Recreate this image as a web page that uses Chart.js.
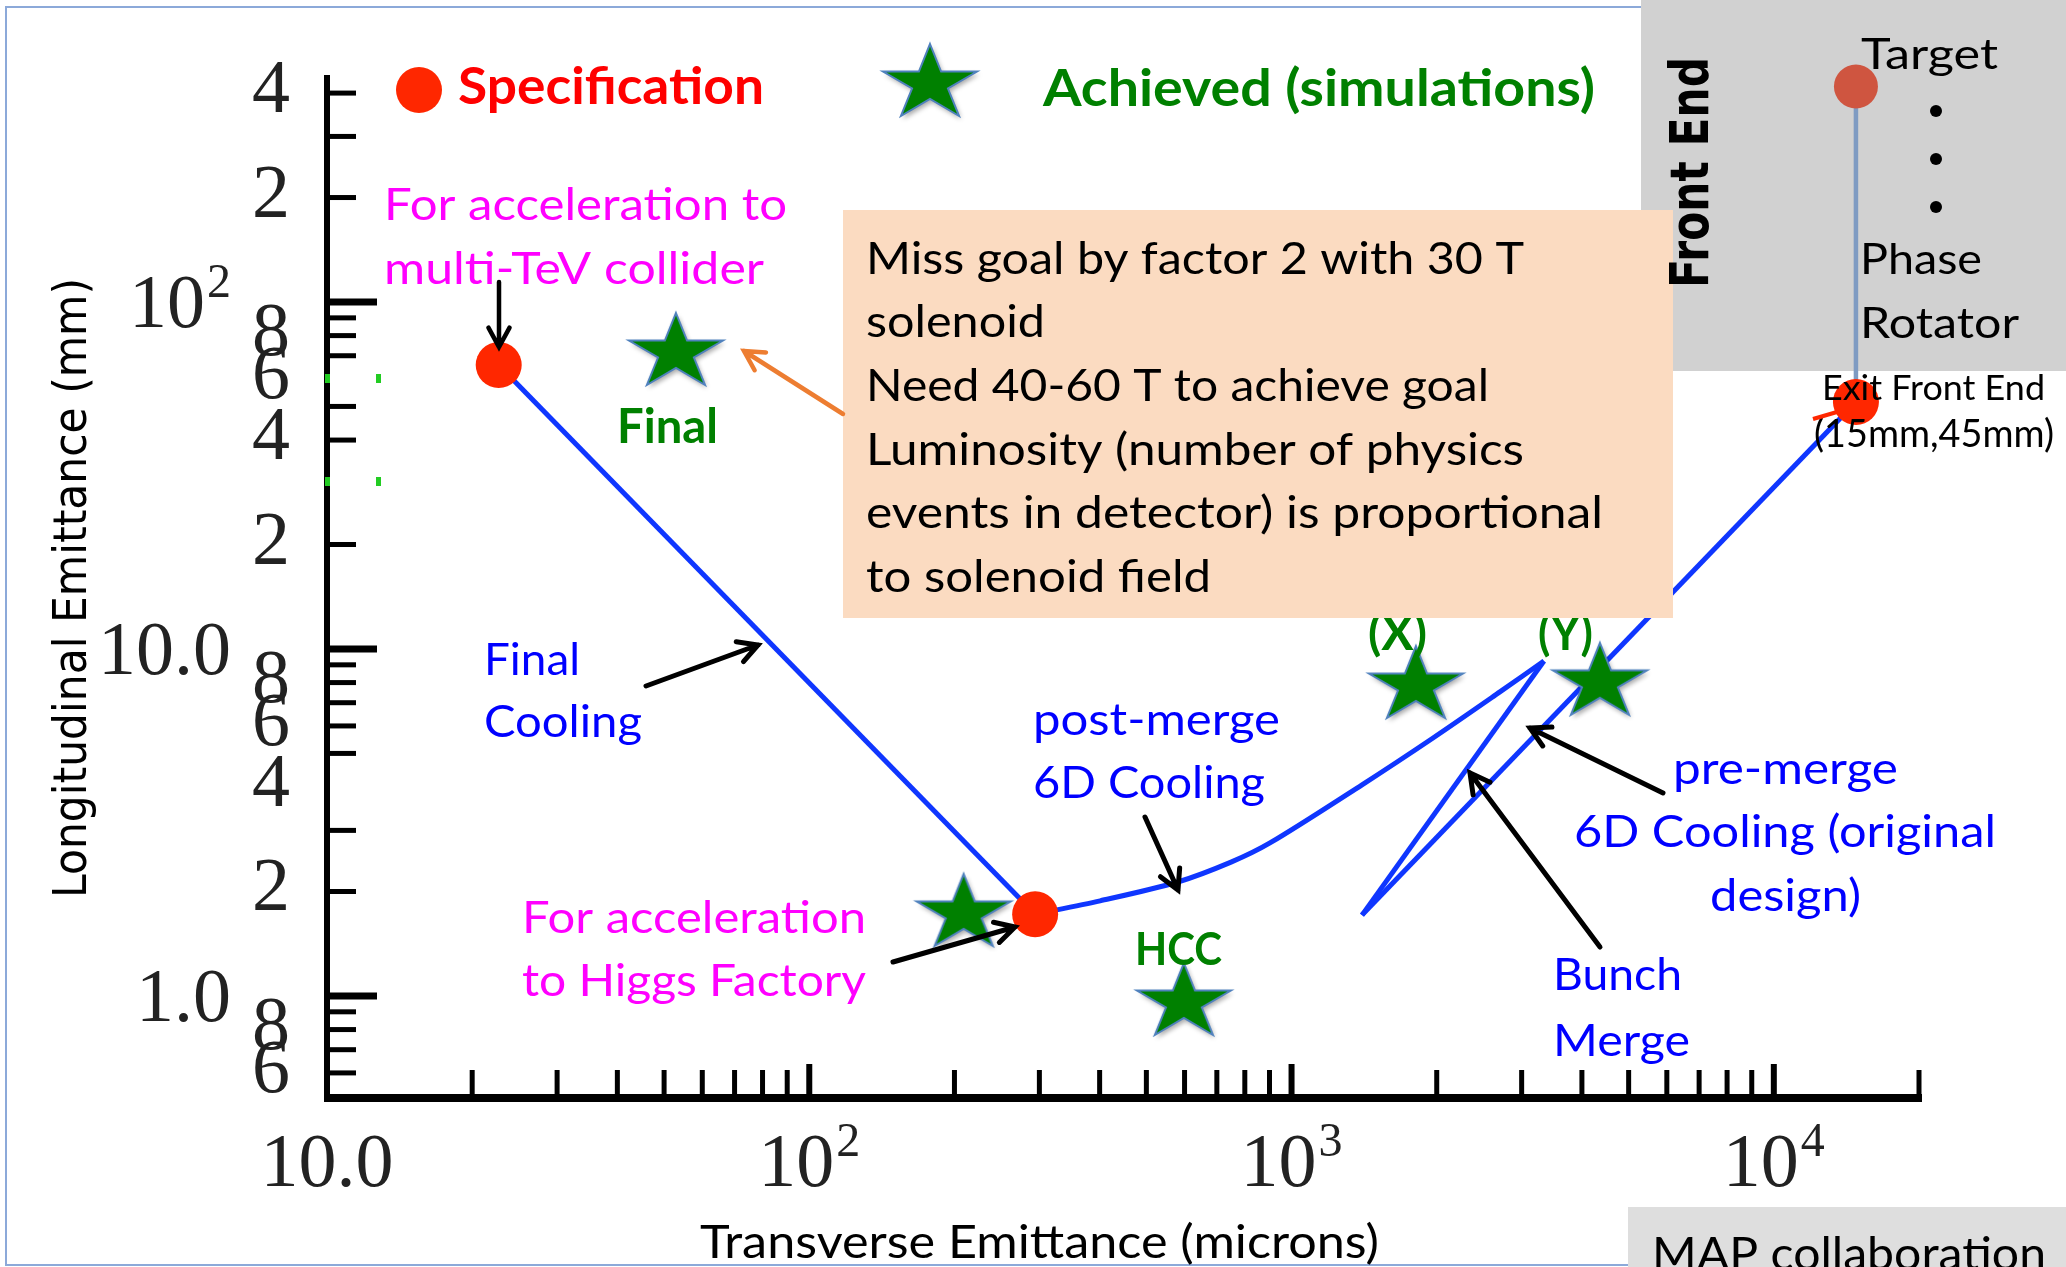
<!DOCTYPE html>
<html>
<head>
<meta charset="utf-8">
<script src="https://cdn.jsdelivr.net/npm/chart.js@4.4.1/dist/chart.umd.min.js"></script>
<style>
  html, body { margin: 0; padding: 0; background: #fff; overflow: hidden; }
</style>
</head>
<body>
<canvas id="chart" width="2066" height="1267"></canvas>
<script>
// Specification points (transverse microns, longitudinal mm)
const specX = [22.7, 294, 14800];
const specY = [65.8, 1.72, 51.5];

// Achieved in simulations: Final, Higgs, HCC, (X), (Y)
const achievedX = [52.9, 209, 598, 1811, 4359];
const achievedY = [73.2, 1.77, 0.98, 8.03, 8.2];

// cooling path, split by stage
const preMergeX = [14800, 1400];
const preMergeY = [51.5, 1.71];
const bunchMergeX = [1400, 3337];
const bunchMergeY = [1.71, 9.23];
const postMergeX = [3337, 2704, 1965, 1400, 902, 749, 581, 401, 294];
const postMergeY = [9.23, 7.52, 5.54, 4.06, 2.76, 2.43, 2.13, 1.88, 1.72];
const finalCoolingX = [294, 22.7];
const finalCoolingY = [1.72, 65.8];

// front end: target down to exit
const frontEndX = [14800, 14800];
const frontEndY = [418, 51.5];

// axis ticks
const xMajorTicks = [100, 1000, 10000];
const xMinorTicks = [20, 30, 40, 50, 60, 70, 80, 90,
                     200, 300, 400, 500, 600, 700, 800, 900,
                     2000, 3000, 4000, 5000, 6000, 7000, 8000, 9000, 20000];
const xTickValues = [10, 100, 1000, 10000];
const xTickLabels = ['10.0', '10²', '10³', '10⁴'];

const yMajorTicks = [1, 10, 100];
const yMinorTicks = [0.6, 0.7, 0.8, 0.9, 2, 3, 5, 6, 7, 8, 9,
                     20, 40, 50, 70, 80, 90, 200, 300, 400];
const yDecadeValues = [1, 10, 100];
const yDecadeLabels = ['1.0', '10.0', '10²'];
const yDigitValues = [0.6, 0.8, 2, 4, 6, 8, 20, 40, 60, 80, 200, 400];
const yDigitLabels = ['6', '8', '2', '4', '6', '8', '2', '4', '6', '8', '2', '4'];

const RED = '#FF0000', GREEN = '#008000', BLUE = '#0000FF', MAGENTA = '#FF00FF';
const LINE_BLUE = '#0F36FF';
const SUP = { '²': '2', '³': '3', '⁴': '4' };

const pts = (xs, ys) => xs.map((x, i) => ({ x: x, y: ys[i] }));

// five point star as an image, wider than tall like the slide shape
function makeStar(w, h) {
    const pad = 10;
    const c = document.createElement('canvas');
    c.width = w + 2 * pad;
    c.height = h + 2 * pad;
    const g = c.getContext('2d');
    g.beginPath();
    for (let i = 0; i < 10; i++) {
        const r = i % 2 ? 0.382 : 1;
        const a = -Math.PI / 2 + i * Math.PI / 5;
        const px = pad + (Math.cos(a) * r + 0.951) / 1.902 * w;
        const py = pad + (Math.sin(a) * r + 1) / 1.809 * h;
        if (i) g.lineTo(px, py); else g.moveTo(px, py);
    }
    g.closePath();
    g.shadowColor = 'rgba(0,0,0,0.35)';
    g.shadowBlur = 5;
    g.shadowOffsetX = 2;
    g.shadowOffsetY = 3;
    g.fillStyle = '#008000';
    g.fill();
    g.shadowColor = 'transparent';
    g.lineWidth = 2;
    g.strokeStyle = '#4F81BD';
    g.stroke();
    return c;
}
const starImg = makeStar(94, 72);

// text squeezed/stretched to a target width
function text(ctx, s, x, y, size, color, bold, width, family, rot) {
    ctx.save();
    ctx.font = (bold ? 'bold ' : '') + size + 'px ' + (family || 'Lato');
    ctx.fillStyle = color;
    ctx.textBaseline = 'alphabetic';
    ctx.textAlign = 'left';
    ctx.translate(x, y);
    if (rot) ctx.rotate(rot);
    if (width) ctx.scale(width / ctx.measureText(s).width, 1);
    ctx.fillText(s, 0, 0);
    ctx.restore();
}

function arrow(ctx, x1, y1, x2, y2, color, lw) {
    const a = Math.atan2(y2 - y1, x2 - x1), L = 22, s = 0.5;
    ctx.save();
    ctx.strokeStyle = color;
    ctx.lineWidth = lw;
    ctx.lineCap = 'round';
    ctx.beginPath();
    ctx.moveTo(x1, y1);
    ctx.lineTo(x2, y2);
    ctx.moveTo(x2 - L * Math.cos(a - s), y2 - L * Math.sin(a - s));
    ctx.lineTo(x2, y2);
    ctx.lineTo(x2 - L * Math.cos(a + s), y2 - L * Math.sin(a + s));
    ctx.stroke();
    ctx.restore();
}

// tick label with an optional trailing superscript digit
function tickLabel(ctx, s, x, y, align) {
    const base = s.replace(/[²³⁴]/g, '');
    const sup = s.length > base.length ? SUP[s[s.length - 1]] : '';
    ctx.font = '76px "Liberation Serif"';
    const wb = ctx.measureText(base).width;
    ctx.font = '48px "Liberation Serif"';
    const ws = sup ? ctx.measureText(sup).width + 2 : 0;
    const left = align === 'center' ? x - (wb + ws) / 2 : x - (wb + ws);
    ctx.fillStyle = '#222';
    ctx.textAlign = 'left';
    ctx.textBaseline = 'alphabetic';
    ctx.font = '76px "Liberation Serif"';
    ctx.fillText(base, left, y);
    if (sup) {
        ctx.font = '48px "Liberation Serif"';
        ctx.fillText(sup, left + wb + 2, y - 30);
    }
}

const notes = [
    ['Specification', 458, 104, 52, RED, true, 306],
    ['Achieved (simulations)', 1043, 106, 52, GREEN, true, 552],
    ['For acceleration to', 384, 220, 44, MAGENTA, false, 403],
    ['multi-TeV collider', 384, 284, 44, MAGENTA, false, 380],
    ['Final', 617, 443, 48, GREEN, true, 101],
    ['Final', 484, 675, 45, BLUE, false, 96],
    ['Cooling', 484, 737, 45, BLUE, false, 158],
    ['For acceleration', 522, 933, 44, MAGENTA, false, 344],
    ['to Higgs Factory', 522, 996, 44, MAGENTA, false, 344],
    ['post-merge', 1033, 735, 45, BLUE, false, 247],
    ['6D Cooling', 1033, 798, 45, BLUE, false, 232],
    ['HCC', 1135, 965, 45, GREEN, true, 87],
    ['(X)', 1368, 650, 48, GREEN, true, 59],
    ['(Y)', 1538, 650, 48, GREEN, true, 55],
    ['pre-merge', 1673, 784, 45, BLUE, false, 225],
    ['6D Cooling (original', 1574, 847, 45, BLUE, false, 422],
    ['design)', 1710, 911, 45, BLUE, false, 151],
    ['Bunch', 1553, 990, 45, BLUE, false, 129],
    ['Merge', 1553, 1056, 45, BLUE, false, 137],
    ['Transverse Emittance (microns)', 700, 1258, 47, '#000', false, 679]
];

const boxLines = [
    ['Miss goal by factor 2 with 30 T', 658],
    ['solenoid', 179],
    ['Need 40-60 T to achieve goal', 623],
    ['Luminosity (number of physics', 658],
    ['events in detector) is proportional', 737],
    ['to solenoid field', 345]
];

const slidePlugin = {
    id: 'slide',
    beforeDraw(chart) {
        const ctx = chart.ctx;
        ctx.save();
        ctx.fillStyle = '#fff';
        ctx.fillRect(0, 0, chart.width, chart.height);
        ctx.strokeStyle = '#8CA9D9';
        ctx.lineWidth = 2;
        ctx.strokeRect(6, 7, 2100, 1258);
        // front end panel
        ctx.fillStyle = '#D1D1D1';
        ctx.fillRect(1641, 0, 425, 371);
        ctx.restore();
    },
    beforeDatasetsDraw(chart) {
        const { ctx, scales: { x, y } } = chart;
        const x0 = x.getPixelForValue(10);
        const xEnd = x.getPixelForValue(20000);
        const top = y.getPixelForValue(y.max);
        const bottom = y.getPixelForValue(y.min);
        const seg = (a, b, c, d) => { ctx.beginPath(); ctx.moveTo(a, b); ctx.lineTo(c, d); ctx.stroke(); };
        ctx.save();
        ctx.strokeStyle = '#000';
        ctx.lineCap = 'butt';
        ctx.lineWidth = 6;
        seg(x0, top, x0, bottom + 4);
        ctx.lineWidth = 8;
        seg(x0 - 3, bottom, xEnd + 3, bottom);

        ctx.lineWidth = 5;
        yMinorTicks.forEach(v => { const p = y.getPixelForValue(v); seg(x0, p, x0 + 29, p); });
        ctx.lineWidth = 7;
        yMajorTicks.forEach(v => { const p = y.getPixelForValue(v); seg(x0, p, x0 + 50, p); });
        ctx.lineWidth = 5;
        xMinorTicks.forEach(v => { const p = x.getPixelForValue(v); seg(p, bottom, p, bottom - 28); });
        ctx.lineWidth = 6;
        xMajorTicks.forEach(v => { const p = x.getPixelForValue(v); seg(p, bottom, p, bottom - 34); });

        xTickValues.forEach((v, i) => tickLabel(ctx, xTickLabels[i], x.getPixelForValue(v), 1186, 'center'));
        yDecadeValues.forEach((v, i) => tickLabel(ctx, yDecadeLabels[i], 231, y.getPixelForValue(v) + 25, 'right'));
        yDigitValues.forEach((v, i) => tickLabel(ctx, yDigitLabels[i], 290, y.getPixelForValue(v) + 19, 'right'));

        // stray green marks by the axis
        ctx.fillStyle = '#22CC22';
        [[325, 374], [376, 374], [325, 477], [376, 477]].forEach(p => ctx.fillRect(p[0], p[1], 5, 9));
        ctx.restore();
    },
    afterDatasetsDraw(chart) {
        const ctx = chart.ctx;
        ctx.save();

        // legend
        ctx.fillStyle = '#FF2700';
        ctx.beginPath();
        ctx.arc(419, 90, 23, 0, Math.PI * 2);
        ctx.fill();
        ctx.drawImage(starImg, 930 - starImg.width / 2, 80 - starImg.height / 2);

        notes.forEach(n => text(ctx, n[0], n[1], n[2], n[3], n[4], n[5], n[6]));

        // info box
        ctx.fillStyle = '#FBDBC1';
        ctx.fillRect(843, 210, 830, 408);
        boxLines.forEach((l, i) => text(ctx, l[0], 866, 273.5 + 63.7 * i, 45, '#000', false, l[1]));

        // front end panel text
        text(ctx, 'Front End', 1708, 288, 53, '#000', true, 231, '"DejaVu Sans"', -Math.PI / 2);
        text(ctx, 'Target', 1861, 69, 42, '#000', false, 137);
        ctx.fillStyle = '#000';
        [111, 159, 207].forEach(py => { ctx.beginPath(); ctx.arc(1936, py, 6, 0, Math.PI * 2); ctx.fill(); });
        text(ctx, 'Phase', 1860, 273.5, 42, '#000', false, 122);
        text(ctx, 'Rotator', 1860, 338, 42, '#000', false, 159);
        text(ctx, 'Exit Front End', 1822, 400, 34, '#000', false, 223);
        text(ctx, '(15mm,45mm)', 1814, 447, 38, '#000', false, 240);

        ctx.strokeStyle = '#FF2700';
        ctx.lineWidth = 4;
        ctx.beginPath();
        ctx.moveTo(1813, 419);
        ctx.lineTo(1837, 412);
        ctx.stroke();

        text(ctx, 'Longitudinal Emittance (mm)', 86, 898, 46, '#000', false, 620, '"DejaVu Sans"', -Math.PI / 2);

        // pointers
        arrow(ctx, 499, 282, 499, 347, '#000', 4.5);
        arrow(ctx, 843, 414, 744, 351, '#ED7D31', 4.5);
        arrow(ctx, 646, 686, 758, 645, '#000', 5);
        arrow(ctx, 1145, 817, 1178, 890, '#000', 5);
        arrow(ctx, 893, 962, 1015, 927, '#000', 5);
        arrow(ctx, 1663, 793, 1530, 728, '#000', 5);
        arrow(ctx, 1600, 947, 1470, 773, '#000', 5);

        // credit box
        ctx.fillStyle = '#DEDEDE';
        ctx.fillRect(1628, 1207, 438, 60);
        text(ctx, 'MAP collaboration', 1652, 1270, 47, '#000', false, 394);
        ctx.restore();
    }
};

const lineStyle = { showLine: true, borderColor: LINE_BLUE, borderWidth: 5, pointRadius: 0, clip: false, order: 4 };

new Chart(document.getElementById('chart'), {
    type: 'scatter',
    data: {
        datasets: [
            {
                label: 'Specification',
                data: pts(specX, specY),
                pointRadius: 23,
                pointBackgroundColor: '#FF2700',
                pointBorderWidth: 0,
                clip: false,
                order: 1
            },
            {
                label: 'Achieved (simulations)',
                data: pts(achievedX, achievedY),
                pointStyle: starImg,
                pointRadius: 5,
                clip: false,
                order: 2
            },
            {
                label: 'Front End',
                data: pts(frontEndX, frontEndY),
                showLine: true,
                borderColor: '#7F9BC2',
                borderWidth: 4.5,
                pointRadius: [22, 0],
                pointBackgroundColor: '#CF5540',
                pointBorderWidth: 0,
                clip: false,
                order: 3
            },
            Object.assign({ label: 'pre-merge 6D Cooling', data: pts(preMergeX, preMergeY) }, lineStyle),
            Object.assign({ label: 'Bunch Merge', data: pts(bunchMergeX, bunchMergeY) }, lineStyle),
            Object.assign({ label: 'post-merge 6D Cooling', data: pts(postMergeX, postMergeY), tension: 0.3 }, lineStyle),
            Object.assign({ label: 'Final Cooling', data: pts(finalCoolingX, finalCoolingY) }, lineStyle)
        ]
    },
    options: {
        responsive: false,
        animation: false,
        events: [],
        layout: { padding: { left: 327, right: 147, top: 75, bottom: 169 } },
        scales: {
            x: { type: 'logarithmic', min: 10, max: 20000, display: false },
            y: { type: 'logarithmic', min: 0.508, max: 451, display: false }
        },
        plugins: {
            legend: { display: false },
            tooltip: { enabled: false }
        }
    },
    plugins: [slidePlugin]
});
</script>
</body>
</html>
